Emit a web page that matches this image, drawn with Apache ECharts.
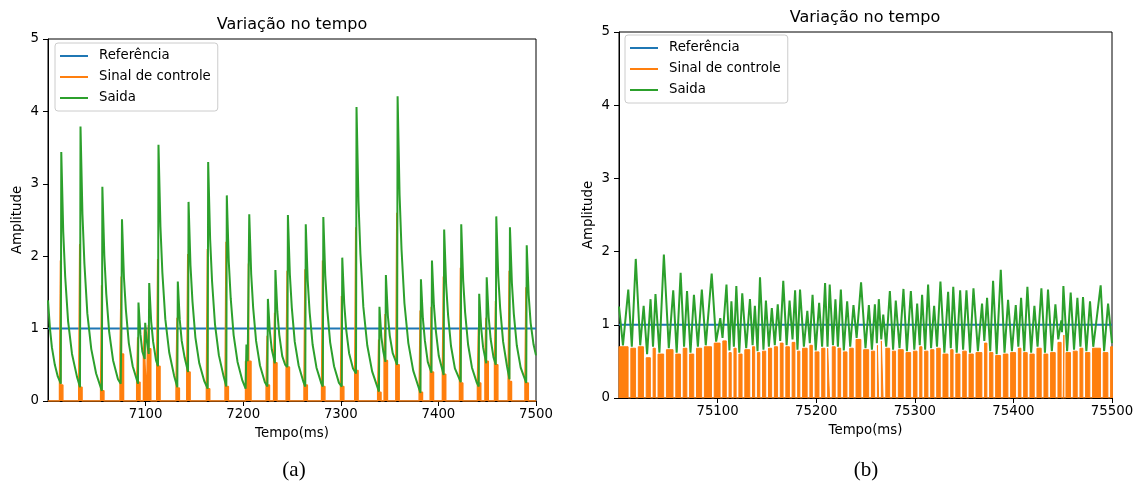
<!DOCTYPE html>
<html>
<head>
<meta charset="utf-8">
<script src="https://cdn.jsdelivr.net/npm/echarts@6/dist/echarts.min.js"></script>
<style>
  html, body { margin: 0; padding: 0; background: #fff; }
  #chart { width: 1138px; height: 501px; }
</style>
</head>
<body>
<div id="chart"></div>
<script>
// (a) 7000-7500 ms, (b) 75000-75500 ms

const legendNames = ['Referência', 'Sinal de controle', 'Saida'];
const yTicks = [0, 1, 2, 3, 4, 5];

const refA = [[7000, 1], [7500, 1]];
const refB = [[75000, 1], [75500, 1]];

// Saida (a): each spike = base just before, peak, then the decay
const saidaA = [
  [7000, 1.39], [7002, 1.0], [7004, 0.74], [7007, 0.5], [7010, 0.34], [7013.1, 0.24],
  [7013.6, 3.44], [7015.6, 2.34], [7017.6, 1.72], [7020.6, 1.10], [7024.6, 0.65], [7029.6, 0.34], [7032.8, 0.19],
  [7033.3, 3.79], [7035.3, 2.58], [7037.3, 1.9], [7040.3, 1.21], [7044.3, 0.72], [7049.3, 0.38], [7055.2, 0.14],
  [7055.7, 2.96], [7057.7, 2.01], [7059.7, 1.48], [7062.7, 0.95], [7066.7, 0.56], [7071.7, 0.3], [7074.5, 0.24], [7075.2, 1.0],
  [7075.8, 2.51], [7077.8, 1.71], [7079.8, 1.26], [7082.8, 0.8], [7086.8, 0.48], [7092.2, 0.24],
  [7092.7, 1.36], [7094.7, 0.92], [7096.7, 0.68], [7099.1, 0.58],
  [7099.6, 1.08], [7101, 0.85], [7103.2, 0.65],
  [7103.7, 1.63], [7105.7, 1.1], [7107.7, 0.82], [7110.7, 0.56], [7112.7, 0.48],
  [7113.2, 3.54], [7115.2, 2.41], [7117.2, 1.77], [7120.2, 1.13], [7124.2, 0.67], [7129.2, 0.35], [7132.5, 0.19],
  [7133, 1.65], [7135, 1.12], [7137, 0.83], [7140, 0.6], [7143.5, 0.4],
  [7144, 2.75], [7146, 1.87], [7148, 1.38], [7151, 0.88], [7155, 0.52], [7160, 0.28], [7163.6, 0.17],
  [7164.1, 3.3], [7166.1, 2.24], [7168.1, 1.65], [7171.1, 1.06], [7175.1, 0.63], [7180.1, 0.33], [7182.7, 0.2],
  [7183.2, 2.84], [7185.2, 1.93], [7187.2, 1.42], [7190.2, 0.91], [7194.2, 0.54], [7199.2, 0.28], [7202.5, 0.17],
  [7203.3, 0.78], [7204.6, 0.55],
  [7206.2, 2.58], [7208.2, 1.75], [7210.2, 1.29], [7213.2, 0.83], [7217.2, 0.49], [7222.2, 0.26], [7224.8, 0.2],
  [7225.3, 1.41], [7227.3, 0.96], [7229.3, 0.71], [7232.5, 0.52],
  [7233, 1.81], [7235, 1.23], [7237, 0.91], [7240, 0.62], [7243, 0.5], [7245.3, 0.47],
  [7245.8, 2.57], [7247.8, 1.75], [7249.8, 1.29], [7252.8, 0.82], [7256.8, 0.49], [7261.8, 0.26], [7263.6, 0.2],
  [7264.1, 2.44], [7266.1, 1.66], [7268.1, 1.22], [7271.1, 0.78], [7275.1, 0.46], [7280.1, 0.24], [7281.6, 0.2],
  [7282.1, 2.54], [7284.1, 1.73], [7286.1, 1.27], [7289.1, 0.81], [7293.1, 0.48], [7298.1, 0.25], [7301, 0.2],
  [7301.5, 1.98], [7303.5, 1.35], [7305.5, 0.99], [7308.5, 0.66], [7312.5, 0.45], [7315.6, 0.38],
  [7316.1, 4.06], [7318.1, 2.76], [7320.1, 2.03], [7323.1, 1.3], [7327.1, 0.77], [7332.1, 0.41], [7339.1, 0.13],
  [7339.6, 1.3], [7341.6, 0.88], [7343.6, 0.68], [7345.7, 0.54],
  [7346.2, 1.74], [7348.2, 1.18], [7350.2, 0.9], [7353.2, 0.66], [7357.7, 0.5],
  [7358.2, 4.21], [7360.2, 2.86], [7362.2, 2.1], [7365.2, 1.35], [7369.2, 0.8], [7374.2, 0.42], [7381.6, 0.11],
  [7382.1, 1.68], [7384.1, 1.14], [7386.1, 0.84], [7389.1, 0.54], [7392.9, 0.39],
  [7393.4, 1.94], [7395.4, 1.32], [7397.4, 0.97], [7400.4, 0.62], [7405.4, 0.36],
  [7405.9, 2.37], [7407.9, 1.61], [7409.9, 1.19], [7412.9, 0.76], [7416.9, 0.45], [7422.9, 0.26],
  [7423.4, 2.44], [7425.4, 1.66], [7427.4, 1.22], [7430.4, 0.78], [7434.4, 0.46], [7439.4, 0.25], [7441.3, 0.2],
  [7441.8, 1.48], [7443.8, 1.01], [7445.8, 0.74], [7449, 0.52],
  [7449.5, 1.71], [7451.5, 1.16], [7453.5, 0.86], [7456.5, 0.6], [7458.8, 0.5],
  [7459.3, 2.55], [7461.3, 1.73], [7463.3, 1.28], [7466.3, 0.82], [7470.3, 0.48], [7472.8, 0.3],
  [7473.3, 2.4], [7475.3, 1.63], [7477.3, 1.2], [7480.3, 0.77], [7484.3, 0.46], [7490, 0.25],
  [7490.5, 2.15], [7492.5, 1.46], [7494.5, 1.08], [7497.5, 0.78], [7500, 0.63]
];

// Sinal de controle (a): pulses [start, peak time, end, level, peak]
const pulsesA = [
  [7011.8, 7012.8, 7015.2, 0.22, 1.94], [7031.5, 7032.5, 7034.9, 0.19, 2.17],
  [7053.9, 7054.9, 7057.3, 0.14, 1.6], [7073.8, 7075.0, 7077.4, 0.65, 1.72],
  [7090.9, 7091.9, 7094.3, 0.26, 0.88], [7097.8, 7098.8, 7101.0, 0.6, 1.0],
  [7101.9, 7102.9, 7105.3, 0.72, 1.05], [7111.4, 7112.4, 7114.8, 0.48, 1.96],
  [7131.2, 7132.2, 7134.6, 0.18, 1.15], [7142.2, 7143.2, 7145.6, 0.4, 2.03],
  [7162.3, 7163.3, 7165.7, 0.17, 2.1], [7181.4, 7182.4, 7184.8, 0.2, 2.2],
  [7202.4, 7205.4, 7208.0, 0.55, 1.9], [7223.5, 7224.5, 7226.9, 0.22, 0.9],
  [7231.2, 7232.2, 7234.6, 0.53, 1.22], [7244.0, 7245.0, 7247.4, 0.47, 1.8],
  [7262.3, 7263.3, 7265.7, 0.22, 1.82], [7280.3, 7281.3, 7283.7, 0.2, 1.94],
  [7299.7, 7300.7, 7303.1, 0.2, 1.45], [7314.3, 7315.3, 7317.7, 0.42, 2.4],
  [7337.8, 7338.8, 7341.2, 0.12, 0.85], [7344.4, 7345.4, 7347.8, 0.56, 1.2],
  [7356.4, 7357.4, 7359.8, 0.5, 2.6], [7380.3, 7381.3, 7383.7, 0.12, 1.25],
  [7391.6, 7392.6, 7395.0, 0.4, 1.3], [7404.1, 7405.1, 7407.5, 0.37, 1.72],
  [7421.6, 7422.6, 7425.0, 0.25, 1.84], [7440.0, 7441.0, 7443.4, 0.25, 1.0],
  [7447.7, 7448.7, 7451.1, 0.55, 1.15], [7457.5, 7458.5, 7460.9, 0.5, 1.38],
  [7471.5, 7472.5, 7474.9, 0.27, 1.8], [7488.7, 7489.7, 7492.1, 0.25, 1.57]
];

// Saida (b): alternating peak / valley
const saidaB = [
  [75000, 1.25], [75004, 0.72], [75009.4, 1.48], [75013, 0.7], [75017, 1.9], [75021.5, 0.72],
  [75025, 1.26], [75028.5, 0.6], [75032, 1.35], [75034.5, 0.7], [75037, 1.42], [75041, 0.62],
  [75045.5, 1.96], [75050.5, 0.68], [75055, 1.47], [75058.5, 0.62], [75062.5, 1.71], [75066, 0.7],
  [75069, 1.46], [75072.5, 0.62], [75076, 1.41], [75080, 0.7], [75084, 1.48], [75088, 0.72],
  [75094, 1.7], [75098.5, 0.77], [75102.7, 1.09], [75105, 0.82], [75109, 1.55], [75112, 0.65],
  [75114, 1.32], [75116.5, 0.7], [75119, 1.53], [75122, 0.62], [75125, 1.43], [75129, 0.68],
  [75132.8, 1.35], [75135.5, 0.72], [75137.8, 1.26], [75140.5, 0.64], [75143, 1.65], [75146.5, 0.66],
  [75149, 1.33], [75152, 0.7], [75155, 1.23], [75158, 0.72], [75161, 1.28], [75163.5, 0.78],
  [75166.6, 1.6], [75170, 0.72], [75173, 1.33], [75176, 0.8], [75178.6, 1.47], [75181, 0.66],
  [75183.6, 1.48], [75187.5, 0.7], [75191, 1.19], [75193.5, 0.75], [75196.3, 1.41], [75199.5, 0.65],
  [75203, 1.3], [75206, 0.7], [75209, 1.57], [75211.5, 0.7], [75213.7, 1.55], [75217, 0.72],
  [75219.5, 1.35], [75222, 0.7], [75225, 1.48], [75228, 0.65], [75231.4, 1.32], [75234.5, 0.7],
  [75237.8, 1.27], [75241, 0.82], [75245.5, 1.58], [75250, 0.68], [75253.4, 1.27], [75256.5, 0.66],
  [75259.5, 1.28], [75261.5, 0.75], [75263.5, 1.35], [75266, 0.8], [75268, 1.14], [75271, 0.7],
  [75274.7, 1.46], [75278, 0.66], [75280.7, 1.33], [75284.5, 0.68], [75288.5, 1.49], [75292, 0.64],
  [75296, 1.46], [75299.5, 0.66], [75302.4, 1.29], [75305, 0.72], [75307.4, 1.41], [75310.5, 0.66],
  [75313.5, 1.55], [75316.5, 0.68], [75319.6, 1.26], [75322.5, 0.7], [75326, 1.59], [75330, 0.62],
  [75333.8, 1.45], [75336.5, 0.68], [75339, 1.52], [75342.5, 0.62], [75346, 1.47], [75349, 0.66],
  [75352.4, 1.47], [75356, 0.62], [75359.5, 1.5], [75364, 0.64], [75368.2, 1.29], [75370.5, 0.78],
  [75373.3, 1.37], [75376.5, 0.64], [75379.4, 1.6], [75383, 0.6], [75387.2, 1.75], [75391, 0.62],
  [75394.6, 1.34], [75398.5, 0.64], [75402.4, 1.27], [75405, 0.7], [75407.8, 1.37], [75411, 0.64],
  [75414.2, 1.52], [75418, 0.62], [75421.3, 1.26], [75424.5, 0.7], [75428.4, 1.5], [75432, 0.62],
  [75435.1, 1.48], [75439, 0.64], [75442.6, 1.28], [75445.5, 0.8], [75448.6, 1.06], [75449.3, 0.9],
  [75450.7, 1.53], [75454.5, 0.64], [75458.1, 1.44], [75461.5, 0.66], [75464.9, 1.37], [75468, 0.7],
  [75470.6, 1.38], [75474, 0.64], [75477.7, 1.32], [75481, 0.7], [75488.5, 1.54], [75492, 0.64],
  [75496, 1.29], [75500, 0.75]
];

// Sinal de controle (b): level held between two Saida peaks (one per valley)
const ctrlLevelB = [
  0.7, 0.68, 0.7, 0.55, 0.68, 0.6, 0.66, 0.6, 0.68, 0.6, 0.68, 0.7,
  0.75, 0.78, 0.62, 0.68, 0.6, 0.66, 0.7, 0.62, 0.64, 0.68, 0.7, 0.75,
  0.7, 0.76, 0.64, 0.68, 0.72, 0.63, 0.68, 0.68, 0.7, 0.68, 0.63, 0.68,
  0.8, 0.66, 0.64, 0.72, 0.78, 0.68, 0.64, 0.66, 0.62, 0.64, 0.7, 0.64,
  0.66, 0.68, 0.6, 0.66, 0.6, 0.64, 0.6, 0.62, 0.75, 0.62, 0.58, 0.6,
  0.62, 0.68, 0.62, 0.6, 0.68, 0.6, 0.62, 0.76, 0.86, 0.62, 0.64, 0.68,
  0.62, 0.68, 0.62, 0.7
];

function buildPulsesA() {
  const pts = [[7000, 0]];
  pulsesA.forEach(([s, p, e, lvl, pk]) => {
    pts.push([s, 0], [s, lvl], [p - 0.3, lvl], [p, pk], [p + 0.3, lvl], [e, lvl], [e, 0]);
  });
  pts.push([7500, 0]);
  return pts;
}

function buildCtrlB() {
  // held between peaks, short drop to zero right after each Saida peak
  const pts = [];
  for (let i = 1, k = 0; i < saidaB.length; i += 2, k++) {
    const prevPeak = saidaB[i - 1][0];
    const nextPeak = saidaB[i + 1] ? saidaB[i + 1][0] : 75501;
    const lvl = ctrlLevelB[k] ?? 0.65;
    const on = prevPeak === 75000 ? 75000 : prevPeak + 2.6;
    pts.push([on, 0], [on, lvl], [nextPeak - 0.2, lvl], [nextPeak - 0.2, 0]);
  }
  return pts;
}

const FONT = 'DejaVu Sans';
const BLUE = '#1f77b4', ORANGE = '#ff7f0e', GREEN = '#2ca02c';

function xAxisFor(idx, min, max) {
  return {
    gridIndex: idx, type: 'value', min, max, interval: 100,
    name: 'Tempo(ms)', nameLocation: 'middle', nameGap: 26,
    nameTextStyle: { fontFamily: FONT, fontSize: 13.3, color: '#000' },
    axisLine: { show: true, lineStyle: { color: '#000', width: 1 } },
    axisTick: { show: true, length: 5, lineStyle: { color: '#000', width: 1 } },
    axisLabel: { showMinLabel: false, margin: 7, fontFamily: FONT, fontSize: 13.3, color: '#000',
      formatter: v => String(v) },
    splitLine: { show: false }
  };
}

function yAxisFor(idx) {
  return {
    gridIndex: idx, type: 'value', min: yTicks[0], max: yTicks[yTicks.length - 1], interval: 1,
    name: 'Amplitude', nameLocation: 'middle', nameGap: 24,
    nameTextStyle: { fontFamily: FONT, fontSize: 13.3, color: '#000' },
    axisLine: { show: true, lineStyle: { color: '#000', width: 1 } },
    axisTick: { show: true, length: 5, lineStyle: { color: '#000', width: 1 } },
    axisLabel: { margin: 9, fontFamily: FONT, fontSize: 13.3, color: '#000' },
    splitLine: { show: false }
  };
}

function legendAt(left, top) {
  return {
    data: legendNames, orient: 'vertical', left, top,
    icon: 'rect', itemWidth: 28, itemHeight: 2, itemGap: 7,
    padding: [6, 7, 6, 5],
    borderColor: '#cccccc', borderWidth: 1, borderRadius: 3,
    backgroundColor: 'rgba(255,255,255,0.8)',
    textStyle: { fontFamily: FONT, fontSize: 13.3, color: '#000', lineHeight: 14, padding: [0, 0, 0, 6] },
    selectedMode: false
  };
}

function lineSeries(name, color, data, idx, width, area) {
  const s = {
    name, type: 'line', data, xAxisIndex: idx, yAxisIndex: idx,
    showSymbol: false, symbol: 'none', color,
    lineStyle: { color, width }, clip: true, silent: true
  };
  if (area) s.areaStyle = { color, opacity: 1 };
  return s;
}

const chart = echarts.init(document.getElementById('chart'), null, { renderer: 'canvas' });
chart.setOption({
  animation: false,
  backgroundColor: '#fff',
  title: [
    { text: 'Variação no tempo', left: 292, top: 17, textAlign: 'center', padding: 0,
      textStyle: { fontFamily: FONT, fontSize: 16, fontWeight: 'normal', color: '#000' } },
    { text: 'Variação no tempo', left: 865, top: 10, textAlign: 'center', padding: 0,
      textStyle: { fontFamily: FONT, fontSize: 16, fontWeight: 'normal', color: '#000' } }
  ],
  grid: [
    { left: 48, top: 39, width: 488, height: 362, show: true, borderColor: '#000', borderWidth: 1, backgroundColor: 'transparent' },
    { left: 619, top: 32, width: 493, height: 366, show: true, borderColor: '#000', borderWidth: 1, backgroundColor: 'transparent' }
  ],
  xAxis: [xAxisFor(0, 7000, 7500), xAxisFor(1, 75000, 75500)],
  yAxis: [yAxisFor(0), yAxisFor(1)],
  legend: [legendAt(55, 43), legendAt(625, 35)],
  series: [
    lineSeries('Referência', BLUE, refA, 0, 2),
    lineSeries('Sinal de controle', ORANGE, buildPulsesA(), 0, 1.5, true),
    lineSeries('Saida', GREEN, saidaA, 0, 2),
    lineSeries('Referência', BLUE, refB, 1, 2),
    lineSeries('Sinal de controle', ORANGE, buildCtrlB(), 1, 1, true),
    lineSeries('Saida', GREEN, saidaB, 1, 2)
  ],
  graphic: [
    { type: 'text', x: 294, y: 470, style: { text: '(a)', font: '21px "Liberation Serif"', fill: '#000', align: 'center', verticalAlign: 'middle' } },
    { type: 'text', x: 866, y: 470, style: { text: '(b)', font: '21px "Liberation Serif"', fill: '#000', align: 'center', verticalAlign: 'middle' } }
  ]
});
</script>
</body>
</html>
